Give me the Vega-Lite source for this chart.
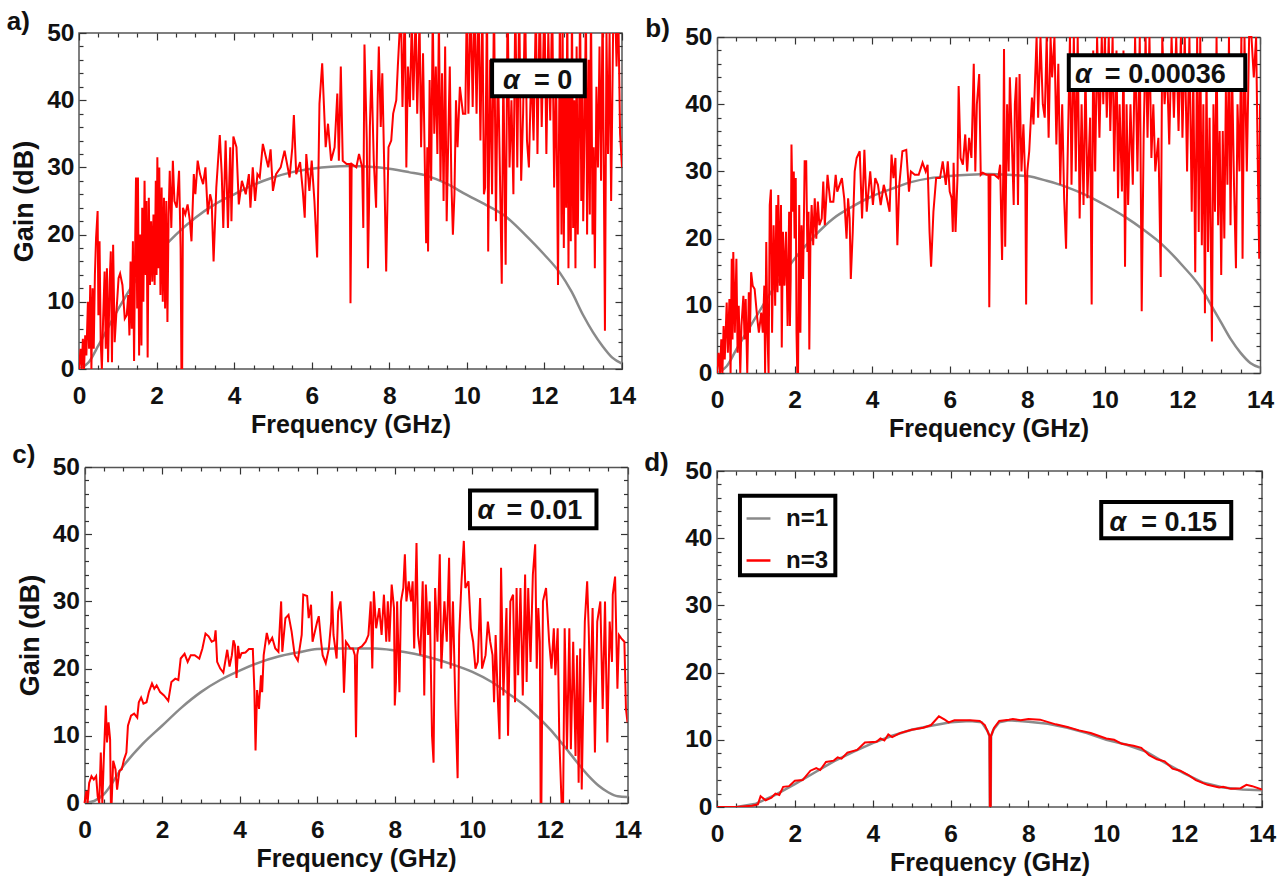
{"$schema":"https://vega.github.io/schema/vega-lite/v6.json","background":"white","padding":{"left":6,"top":8,"right":0,"bottom":0},
"config":{"view":{"stroke":"#555","strokeWidth":1.5},"axis":{"grid":false,"domain":false,"domainColor":"#555","domainWidth":1.5,"tickColor":"#333","tickWidth":1.2,"labelFlush":false,"labelOverlap":false,"labelFont":"Liberation Sans","labelFontWeight":"bold","labelFontSize":24.5,"labelColor":"#111","titleFont":"Liberation Sans","titleFontWeight":"bold","titleColor":"#111"},"axisX":{"titleFontSize":25},"axisY":{"titleFontSize":27},"axisTop":{"labels":false},"axisRight":{"labels":false}},
"datasets":{
"g1":[{"f":0,"g":0},{"f":0.25,"g":1},{"f":0.5,"g":3.5},{"f":1,"g":8.8},{"f":1.5,"g":13.5},{"f":2,"g":17},{"f":2.5,"g":20},{"f":3,"g":22.5},{"f":3.5,"g":24.5},{"f":4,"g":26},{"f":4.5,"g":27.4},{"f":5,"g":28.5},{"f":5.5,"g":29.3},{"f":6,"g":29.8},{"f":6.5,"g":30.1},{"f":7,"g":30.2},{"f":7.5,"g":30.1},{"f":8,"g":29.8},{"f":8.5,"g":29.3},{"f":9,"g":28.7},{"f":9.5,"g":27.5},{"f":10,"g":25.9},{"f":10.5,"g":24.4},{"f":11,"g":22.7},{"f":11.5,"g":20},{"f":12,"g":17},{"f":12.4,"g":14.3},{"f":12.7,"g":11.5},{"f":13,"g":8},{"f":13.25,"g":5.5},{"f":13.5,"g":3.4},{"f":13.75,"g":1.7},{"f":14,"g":0.8}],
"g2":[{"f":0,"g":0},{"f":0.25,"g":1},{"f":0.5,"g":3.5},{"f":1,"g":8.3},{"f":1.5,"g":13},{"f":2,"g":17},{"f":2.5,"g":20.3},{"f":3,"g":23},{"f":3.5,"g":24.8},{"f":4,"g":26.3},{"f":4.5,"g":27.4},{"f":5,"g":28.4},{"f":5.5,"g":29},{"f":6,"g":29.3},{"f":6.5,"g":29.5},{"f":7,"g":29.6},{"f":7.5,"g":29.5},{"f":8,"g":29.3},{"f":8.5,"g":28.6},{"f":9,"g":27.7},{"f":9.5,"g":26.5},{"f":10,"g":25},{"f":10.5,"g":23.3},{"f":11,"g":21.3},{"f":11.5,"g":19},{"f":12,"g":16},{"f":12.5,"g":12.5},{"f":12.75,"g":10},{"f":13,"g":7.5},{"f":13.25,"g":5},{"f":13.5,"g":3},{"f":13.75,"g":1.5},{"f":14,"g":0.8}],
"g3":[{"f":0,"g":0},{"f":0.25,"g":0.3},{"f":0.5,"g":1.3},{"f":1,"g":5.5},{"f":1.5,"g":8.8},{"f":2,"g":11.5},{"f":2.5,"g":14.2},{"f":3,"g":16.5},{"f":3.5,"g":18.3},{"f":4,"g":19.7},{"f":4.5,"g":20.9},{"f":5,"g":21.8},{"f":5.5,"g":22.4},{"f":6,"g":22.9},{"f":6.5,"g":23},{"f":7,"g":23},{"f":7.5,"g":23},{"f":8,"g":22.7},{"f":8.5,"g":22.2},{"f":9,"g":21.5},{"f":9.5,"g":20.6},{"f":10,"g":19.5},{"f":10.5,"g":18},{"f":11,"g":16},{"f":11.5,"g":13.8},{"f":12,"g":11},{"f":12.5,"g":7.5},{"f":13,"g":4},{"f":13.25,"g":2.6},{"f":13.5,"g":1.6},{"f":13.75,"g":1},{"f":14,"g":0.9}],
"g4":[{"f":0.5,"g":0},{"f":1,"g":0.5},{"f":1.5,"g":1.8},{"f":2,"g":3.4},{"f":2.5,"g":5.1},{"f":3,"g":6.8},{"f":3.5,"g":8.2},{"f":4,"g":9.5},{"f":4.5,"g":10.6},{"f":5,"g":11.5},{"f":5.5,"g":12.1},{"f":6,"g":12.6},{"f":6.5,"g":12.8},{"f":6.8,"g":12.6},{"f":6.95,"g":11.3},{"f":7,"g":10.5},{"f":7.01,"g":0},{"f":7.03,"g":0},{"f":7.04,"g":10.5},{"f":7.1,"g":11.5},{"f":7.25,"g":12.6},{"f":7.5,"g":12.9},{"f":8,"g":12.7},{"f":8.5,"g":12.4},{"f":9,"g":11.8},{"f":9.5,"g":11},{"f":10,"g":10},{"f":10.5,"g":9.3},{"f":11,"g":8.3},{"f":11.5,"g":6.6},{"f":12,"g":5},{"f":12.5,"g":3.6},{"f":13,"g":2.9},{"f":13.5,"g":2.6},{"f":14,"g":2.5}],
"a3":[{"f":0,"g":0},{"f":0.04,"g":3},{"f":0.07,"g":0},{"f":0.1,"g":4.5},{"f":0.13,"g":0},{"f":0.16,"g":5},{"f":0.19,"g":2},{"f":0.23,"g":10},{"f":0.26,"g":3},{"f":0.29,"g":12.5},{"f":0.32,"g":0},{"f":0.35,"g":12},{"f":0.38,"g":3},{"f":0.41,"g":14},{"f":0.44,"g":19.5},{"f":0.48,"g":23.5},{"f":0.5,"g":8},{"f":0.53,"g":19},{"f":0.56,"g":4},{"f":0.59,"g":0},{"f":0.62,"g":7},{"f":0.66,"g":14.5},{"f":0.69,"g":3},{"f":0.72,"g":15},{"f":0.75,"g":1},{"f":0.79,"g":13},{"f":0.82,"g":17.5},{"f":0.85,"g":1},{"f":0.88,"g":18.5},{"f":0.92,"g":4},{"f":0.96,"g":8},{"f":1.02,"g":13.5},{"f":1.06,"g":14.2},{"f":1.12,"g":12.5},{"f":1.18,"g":7.5},{"f":1.23,"g":8},{"f":1.27,"g":11},{"f":1.3,"g":5},{"f":1.33,"g":16},{"f":1.36,"g":6},{"f":1.39,"g":19},{"f":1.42,"g":1.2},{"f":1.45,"g":19.5},{"f":1.47,"g":28.5},{"f":1.5,"g":9},{"f":1.52,"g":28.5},{"f":1.55,"g":2},{"f":1.58,"g":20},{"f":1.61,"g":3.5},{"f":1.63,"g":24},{"f":1.66,"g":10},{"f":1.69,"g":28},{"f":1.72,"g":14},{"f":1.74,"g":25},{"f":1.77,"g":1.7},{"f":1.8,"g":25.5},{"f":1.83,"g":12.5},{"f":1.86,"g":22},{"f":1.89,"g":13},{"f":1.92,"g":23},{"f":1.95,"g":12.5},{"f":1.98,"g":28},{"f":2,"g":14},{"f":2.02,"g":31.5},{"f":2.05,"g":15},{"f":2.07,"g":30},{"f":2.1,"g":11},{"f":2.13,"g":27},{"f":2.16,"g":10},{"f":2.19,"g":25.5},{"f":2.22,"g":9},{"f":2.25,"g":25},{"f":2.28,"g":7},{"f":2.31,"g":23},{"f":2.34,"g":29.5},{"f":2.38,"g":21},{"f":2.42,"g":31},{"f":2.46,"g":25},{"f":2.52,"g":24},{"f":2.58,"g":29.5},{"f":2.62,"g":18},{"f":2.64,"g":0},{"f":2.66,"g":0},{"f":2.68,"g":24},{"f":2.74,"g":23},{"f":2.8,"g":24.5},{"f":2.86,"g":22},{"f":2.9,"g":19},{"f":2.96,"g":29},{"f":3,"g":26},{"f":3.06,"g":31},{"f":3.12,"g":29},{"f":3.2,"g":27.5},{"f":3.26,"g":30},{"f":3.32,"g":23},{"f":3.38,"g":26},{"f":3.42,"g":25},{"f":3.47,"g":16},{"f":3.54,"g":27},{"f":3.58,"g":30.5},{"f":3.63,"g":34.8},{"f":3.68,"g":29},{"f":3.72,"g":21},{"f":3.78,"g":34},{"f":3.84,"g":21},{"f":3.9,"g":33},{"f":3.93,"g":22},{"f":3.98,"g":34.6},{"f":4.06,"g":33},{"f":4.12,"g":24.5},{"f":4.2,"g":28},{"f":4.3,"g":26},{"f":4.38,"g":29},{"f":4.42,"g":24},{"f":4.48,"g":30},{"f":4.54,"g":25},{"f":4.6,"g":29},{"f":4.66,"g":28.5},{"f":4.74,"g":33.5},{"f":4.84,"g":31},{"f":4.88,"g":30},{"f":4.94,"g":32.7},{"f":5,"g":26.5},{"f":5.08,"g":29},{"f":5.2,"g":30},{"f":5.3,"g":32.5},{"f":5.43,"g":28.5},{"f":5.5,"g":33},{"f":5.54,"g":37.8},{"f":5.6,"g":29},{"f":5.7,"g":30.8},{"f":5.77,"g":26.5},{"f":5.82,"g":22.5},{"f":5.86,"g":32},{"f":5.94,"g":26.5},{"f":6,"g":31},{"f":6.07,"g":25},{"f":6.14,"g":16.6},{"f":6.2,"g":39.5},{"f":6.27,"g":45.5},{"f":6.36,"g":33},{"f":6.42,"g":36.5},{"f":6.5,"g":31},{"f":6.59,"g":33},{"f":6.66,"g":41},{"f":6.7,"g":31},{"f":6.75,"g":45},{"f":6.8,"g":31},{"f":6.9,"g":30.5},{"f":6.98,"g":30.5},{"f":7,"g":9.8},{"f":7.03,"g":30.5},{"f":7.15,"g":30},{"f":7.22,"g":32},{"f":7.3,"g":30},{"f":7.33,"g":21},{"f":7.36,"g":48.3},{"f":7.42,"g":34},{"f":7.45,"g":15},{"f":7.48,"g":25},{"f":7.5,"g":36},{"f":7.54,"g":44.5},{"f":7.6,"g":31},{"f":7.66,"g":24},{"f":7.7,"g":40},{"f":7.73,"g":48},{"f":7.78,"g":36},{"f":7.82,"g":44},{"f":7.87,"g":30},{"f":7.92,"g":14.5},{"f":7.95,"g":24},{"f":7.98,"g":33},{"f":8.05,"g":34},{"f":8.1,"g":38},{"f":8.18,"g":40},{"f":8.22,"g":45},{"f":8.3,"g":54},{"f":8.34,"g":39},{"f":8.4,"g":54},{"f":8.44,"g":30},{"f":8.48,"g":45},{"f":8.53,"g":39},{"f":8.58,"g":52},{"f":8.62,"g":40},{"f":8.68,"g":53},{"f":8.72,"g":38},{"f":8.78,"g":52},{"f":8.82,"g":33},{"f":8.87,"g":47},{"f":8.92,"g":29},{"f":8.95,"g":18.7},{"f":8.98,"g":33},{"f":9,"g":17.5},{"f":9.04,"g":43},{"f":9.08,"g":28},{"f":9.12,"g":53},{"f":9.16,"g":35},{"f":9.2,"g":45},{"f":9.24,"g":32},{"f":9.28,"g":52},{"f":9.32,"g":28},{"f":9.36,"g":44},{"f":9.4,"g":25},{"f":9.44,"g":48},{"f":9.48,"g":22},{"f":9.52,"g":34},{"f":9.56,"g":45},{"f":9.6,"g":28},{"f":9.64,"g":20},{"f":9.68,"g":26},{"f":9.72,"g":40},{"f":9.76,"g":33},{"f":9.82,"g":42},{"f":9.9,"g":38},{"f":9.96,"g":38},{"f":10,"g":55},{"f":10.04,"g":38},{"f":10.1,"g":55},{"f":10.15,"g":39},{"f":10.2,"g":55},{"f":10.25,"g":38},{"f":10.3,"g":55},{"f":10.35,"g":34},{"f":10.4,"g":55},{"f":10.44,"g":26},{"f":10.47,"g":27},{"f":10.52,"g":55},{"f":10.55,"g":17.5},{"f":10.6,"g":46},{"f":10.65,"g":26},{"f":10.7,"g":55},{"f":10.75,"g":22},{"f":10.8,"g":46},{"f":10.85,"g":30},{"f":10.9,"g":12.7},{"f":10.94,"g":45},{"f":11,"g":15.5},{"f":11.05,"g":55},{"f":11.1,"g":30},{"f":11.15,"g":40},{"f":11.2,"g":26},{"f":11.25,"g":55},{"f":11.3,"g":30},{"f":11.35,"g":55},{"f":11.4,"g":28},{"f":11.45,"g":38},{"f":11.5,"g":55},{"f":11.55,"g":34},{"f":11.6,"g":30},{"f":11.66,"g":45},{"f":11.72,"g":34},{"f":11.78,"g":54},{"f":11.82,"g":32},{"f":11.88,"g":55},{"f":11.93,"g":36},{"f":12,"g":55},{"f":12.05,"g":32},{"f":12.1,"g":50},{"f":12.15,"g":37},{"f":12.2,"g":55},{"f":12.25,"g":27},{"f":12.3,"g":45},{"f":12.35,"g":12.5},{"f":12.4,"g":55},{"f":12.44,"g":20},{"f":12.47,"g":50},{"f":12.5,"g":18},{"f":12.53,"g":45},{"f":12.56,"g":24},{"f":12.59,"g":55},{"f":12.62,"g":15},{"f":12.65,"g":45},{"f":12.68,"g":19},{"f":12.71,"g":55},{"f":12.74,"g":21},{"f":12.77,"g":40},{"f":12.8,"g":15},{"f":12.83,"g":48},{"f":12.86,"g":20},{"f":12.89,"g":35},{"f":12.92,"g":55},{"f":12.95,"g":25},{"f":12.98,"g":44},{"f":13,"g":22},{"f":13.04,"g":38},{"f":13.07,"g":55},{"f":13.1,"g":20},{"f":13.14,"g":46},{"f":13.17,"g":23},{"f":13.2,"g":55},{"f":13.24,"g":20},{"f":13.27,"g":33},{"f":13.3,"g":15},{"f":13.34,"g":42},{"f":13.38,"g":30},{"f":13.42,"g":48},{"f":13.46,"g":28},{"f":13.5,"g":55},{"f":13.56,"g":5.7},{"f":13.6,"g":50},{"f":13.64,"g":32},{"f":13.68,"g":50},{"f":13.72,"g":25},{"f":13.78,"g":55},{"f":13.82,"g":55},{"f":13.86,"g":45},{"f":13.9,"g":55},{"f":13.95,"g":35},{"f":14,"g":30}],
"b3":[{"f":0,"g":0},{"f":0.04,"g":3},{"f":0.08,"g":0},{"f":0.11,"g":5},{"f":0.14,"g":0},{"f":0.17,"g":7},{"f":0.2,"g":2},{"f":0.25,"g":10.5},{"f":0.28,"g":3},{"f":0.32,"g":11},{"f":0.35,"g":0},{"f":0.38,"g":17},{"f":0.4,"g":5},{"f":0.42,"g":18},{"f":0.46,"g":6},{"f":0.5,"g":17},{"f":0.53,"g":3},{"f":0.56,"g":10},{"f":0.6,"g":0},{"f":0.63,"g":7},{"f":0.68,"g":11.5},{"f":0.71,"g":5},{"f":0.74,"g":11},{"f":0.78,"g":0},{"f":0.82,"g":12},{"f":0.85,"g":6},{"f":0.88,"g":15},{"f":0.92,"g":13},{"f":0.97,"g":12.5},{"f":1.04,"g":8},{"f":1.08,"g":6},{"f":1.14,"g":9},{"f":1.18,"g":6},{"f":1.22,"g":13},{"f":1.24,"g":0},{"f":1.27,"g":19.5},{"f":1.3,"g":6},{"f":1.33,"g":0},{"f":1.36,"g":25},{"f":1.39,"g":27.3},{"f":1.42,"g":6},{"f":1.46,"g":22},{"f":1.5,"g":10},{"f":1.53,"g":25},{"f":1.56,"g":12},{"f":1.58,"g":26.5},{"f":1.62,"g":13},{"f":1.65,"g":25},{"f":1.67,"g":3.8},{"f":1.7,"g":21},{"f":1.74,"g":13},{"f":1.78,"g":21},{"f":1.82,"g":7},{"f":1.86,"g":24},{"f":1.88,"g":7},{"f":1.9,"g":14},{"f":1.92,"g":34},{"f":1.95,"g":24},{"f":1.98,"g":30},{"f":2,"g":20},{"f":2.03,"g":29},{"f":2.05,"g":6},{"f":2.07,"g":0},{"f":2.09,"g":0},{"f":2.12,"g":25},{"f":2.15,"g":6},{"f":2.18,"g":22},{"f":2.22,"g":14},{"f":2.26,"g":31.5},{"f":2.3,"g":31.5},{"f":2.33,"g":18},{"f":2.36,"g":24},{"f":2.38,"g":3.5},{"f":2.41,"g":20},{"f":2.44,"g":25},{"f":2.48,"g":19},{"f":2.52,"g":26},{"f":2.56,"g":20},{"f":2.6,"g":25.5},{"f":2.64,"g":22},{"f":2.7,"g":23},{"f":2.74,"g":28.5},{"f":2.78,"g":22},{"f":2.85,"g":29.5},{"f":2.92,"g":25.5},{"f":3,"g":25.5},{"f":3.06,"g":29.5},{"f":3.1,"g":27},{"f":3.16,"g":28},{"f":3.22,"g":29},{"f":3.28,"g":26},{"f":3.34,"g":20},{"f":3.38,"g":26},{"f":3.42,"g":23},{"f":3.45,"g":14},{"f":3.5,"g":21},{"f":3.55,"g":30},{"f":3.6,"g":32},{"f":3.68,"g":33},{"f":3.74,"g":23},{"f":3.8,"g":33.2},{"f":3.86,"g":24},{"f":3.95,"g":30},{"f":4.02,"g":25},{"f":4.08,"g":29},{"f":4.15,"g":28},{"f":4.22,"g":25},{"f":4.3,"g":28},{"f":4.38,"g":26},{"f":4.45,"g":24},{"f":4.5,"g":32.5},{"f":4.55,"g":29},{"f":4.6,"g":32},{"f":4.65,"g":19},{"f":4.7,"g":28},{"f":4.78,"g":33},{"f":4.88,"g":33.2},{"f":4.95,"g":27},{"f":5,"g":30},{"f":5.1,"g":29.5},{"f":5.2,"g":29.5},{"f":5.3,"g":31.3},{"f":5.38,"g":30},{"f":5.43,"g":31},{"f":5.48,"g":21},{"f":5.52,"g":15.8},{"f":5.58,"g":24},{"f":5.65,"g":29},{"f":5.75,"g":29},{"f":5.82,"g":31.5},{"f":5.9,"g":28},{"f":5.95,"g":31.5},{"f":6,"g":27},{"f":6.05,"g":26},{"f":6.08,"g":21},{"f":6.1,"g":31.3},{"f":6.15,"g":21},{"f":6.2,"g":29},{"f":6.23,"g":42.7},{"f":6.28,"g":32},{"f":6.34,"g":31},{"f":6.4,"g":35.5},{"f":6.45,"g":30},{"f":6.5,"g":35},{"f":6.56,"g":32},{"f":6.62,"g":46},{"f":6.66,"g":30},{"f":6.7,"g":40},{"f":6.76,"g":44.5},{"f":6.8,"g":29.5},{"f":6.85,"g":29.8},{"f":6.95,"g":29.5},{"f":7,"g":29.5},{"f":7.02,"g":9.8},{"f":7.05,"g":29.5},{"f":7.15,"g":29.5},{"f":7.25,"g":29},{"f":7.3,"g":31},{"f":7.35,"g":16.8},{"f":7.38,"g":30},{"f":7.4,"g":48.2},{"f":7.43,"g":18.8},{"f":7.48,"g":40},{"f":7.52,"g":30},{"f":7.55,"g":44},{"f":7.6,"g":35},{"f":7.65,"g":25},{"f":7.68,"g":40},{"f":7.72,"g":44},{"f":7.76,"g":25},{"f":7.8,"g":44.5},{"f":7.85,"g":30},{"f":7.9,"g":37},{"f":7.95,"g":28},{"f":7.97,"g":10.2},{"f":8,"g":30},{"f":8.05,"g":33},{"f":8.12,"g":41},{"f":8.16,"g":37},{"f":8.24,"g":55},{"f":8.28,"g":38},{"f":8.34,"g":52},{"f":8.4,"g":40},{"f":8.45,"g":38},{"f":8.5,"g":55},{"f":8.55,"g":35},{"f":8.6,"g":55},{"f":8.64,"g":44},{"f":8.7,"g":55},{"f":8.75,"g":34},{"f":8.8,"g":46},{"f":8.85,"g":28},{"f":8.9,"g":40},{"f":8.95,"g":26},{"f":9,"g":18.5},{"f":9.04,"g":32},{"f":9.1,"g":52},{"f":9.14,"g":28},{"f":9.2,"g":55},{"f":9.25,"g":30},{"f":9.3,"g":50},{"f":9.35,"g":23},{"f":9.4,"g":40},{"f":9.45,"g":25},{"f":9.5,"g":45},{"f":9.55,"g":26},{"f":9.62,"g":38},{"f":9.66,"g":10.2},{"f":9.7,"g":48},{"f":9.75,"g":30},{"f":9.8,"g":55},{"f":9.86,"g":35},{"f":9.92,"g":55},{"f":9.96,"g":40},{"f":10,"g":55},{"f":10.05,"g":38},{"f":10.1,"g":55},{"f":10.14,"g":36},{"f":10.2,"g":55},{"f":10.24,"g":30},{"f":10.3,"g":48},{"f":10.34,"g":26},{"f":10.38,"g":40},{"f":10.44,"g":27},{"f":10.48,"g":48},{"f":10.52,"g":15.8},{"f":10.56,"g":40},{"f":10.6,"g":25},{"f":10.66,"g":40},{"f":10.72,"g":28},{"f":10.78,"g":55},{"f":10.84,"g":30},{"f":10.9,"g":50},{"f":10.95,"g":9.2},{"f":11,"g":35},{"f":11.05,"g":55},{"f":11.1,"g":35},{"f":11.15,"g":55},{"f":11.2,"g":32},{"f":11.25,"g":40},{"f":11.3,"g":30},{"f":11.38,"g":35},{"f":11.44,"g":14.3},{"f":11.48,"g":55},{"f":11.54,"g":40},{"f":11.6,"g":46},{"f":11.66,"g":34},{"f":11.72,"g":55},{"f":11.78,"g":38},{"f":11.84,"g":55},{"f":11.9,"g":36},{"f":11.96,"g":55},{"f":12,"g":35},{"f":12.06,"g":55},{"f":12.12,"g":30},{"f":12.18,"g":55},{"f":12.24,"g":24},{"f":12.28,"g":45},{"f":12.33,"g":15},{"f":12.38,"g":50},{"f":12.42,"g":21},{"f":12.46,"g":52},{"f":12.5,"g":19},{"f":12.54,"g":40},{"f":12.58,"g":8.9},{"f":12.62,"g":45},{"f":12.66,"g":18},{"f":12.7,"g":38},{"f":12.73,"g":20},{"f":12.76,"g":4.7},{"f":12.8,"g":40},{"f":12.84,"g":24},{"f":12.88,"g":55},{"f":12.92,"g":22},{"f":12.96,"g":36},{"f":13,"g":14.6},{"f":13.04,"g":36},{"f":13.08,"g":20},{"f":13.12,"g":42},{"f":13.16,"g":28},{"f":13.2,"g":50},{"f":13.24,"g":22},{"f":13.28,"g":45},{"f":13.33,"g":28},{"f":13.38,"g":15.6},{"f":13.42,"g":40},{"f":13.47,"g":30},{"f":13.52,"g":50},{"f":13.55,"g":17},{"f":13.6,"g":50},{"f":13.66,"g":30},{"f":13.72,"g":55},{"f":13.78,"g":55},{"f":13.84,"g":44},{"f":13.9,"g":55},{"f":13.95,"g":28},{"f":13.98,"g":17},{"f":14,"g":40}],
"c3":[{"f":0,"g":0},{"f":0.05,"g":1.8},{"f":0.08,"g":0},{"f":0.12,"g":3},{"f":0.18,"g":4},{"f":0.24,"g":3.5},{"f":0.3,"g":4},{"f":0.34,"g":1},{"f":0.38,"g":0},{"f":0.42,"g":7.5},{"f":0.46,"g":0},{"f":0.5,"g":7},{"f":0.55,"g":14.5},{"f":0.58,"g":9},{"f":0.62,"g":12},{"f":0.66,"g":9.5},{"f":0.68,"g":0},{"f":0.7,"g":0},{"f":0.74,"g":6.3},{"f":0.8,"g":5},{"f":0.84,"g":2},{"f":0.9,"g":4.8},{"f":0.96,"g":5},{"f":1.02,"g":6.5},{"f":1.08,"g":7.5},{"f":1.12,"g":11.5},{"f":1.2,"g":13},{"f":1.28,"g":13.3},{"f":1.36,"g":12.7},{"f":1.4,"g":15},{"f":1.46,"g":15.7},{"f":1.52,"g":14.8},{"f":1.6,"g":15},{"f":1.66,"g":16.5},{"f":1.74,"g":17.8},{"f":1.8,"g":17},{"f":1.86,"g":17.5},{"f":1.95,"g":16.5},{"f":2.05,"g":16},{"f":2.16,"g":15.2},{"f":2.24,"g":18},{"f":2.34,"g":18.5},{"f":2.42,"g":18.3},{"f":2.48,"g":21.5},{"f":2.58,"g":22.2},{"f":2.66,"g":21},{"f":2.74,"g":22},{"f":2.84,"g":22},{"f":2.96,"g":21.5},{"f":3.04,"g":23},{"f":3.12,"g":25.2},{"f":3.2,"g":24.8},{"f":3.28,"g":24},{"f":3.35,"g":24.2},{"f":3.38,"g":25.7},{"f":3.42,"g":21},{"f":3.5,"g":20},{"f":3.58,"g":19.4},{"f":3.68,"g":22.8},{"f":3.74,"g":20.3},{"f":3.8,"g":22},{"f":3.84,"g":24.2},{"f":3.88,"g":23.5},{"f":3.92,"g":18.6},{"f":3.96,"g":23.4},{"f":4,"g":21.5},{"f":4.05,"g":22.3},{"f":4.15,"g":22.4},{"f":4.24,"g":22.9},{"f":4.34,"g":22.9},{"f":4.38,"g":16.8},{"f":4.41,"g":7.8},{"f":4.45,"g":16.8},{"f":4.5,"g":14},{"f":4.55,"g":19},{"f":4.58,"g":16.5},{"f":4.62,"g":22},{"f":4.7,"g":25.3},{"f":4.76,"g":23.8},{"f":4.84,"g":24.6},{"f":4.92,"g":23},{"f":5,"g":22.5},{"f":5.07,"g":30},{"f":5.1,"g":22.5},{"f":5.18,"g":27.5},{"f":5.26,"g":28},{"f":5.34,"g":25.5},{"f":5.42,"g":22},{"f":5.5,"g":21.2},{"f":5.6,"g":25},{"f":5.64,"g":31},{"f":5.74,"g":30.8},{"f":5.78,"g":27.5},{"f":5.84,"g":29.5},{"f":5.88,"g":24},{"f":5.94,"g":25.5},{"f":6,"g":27},{"f":6.04,"g":27.8},{"f":6.1,"g":24},{"f":6.14,"g":22},{"f":6.22,"g":20.8},{"f":6.3,"g":23},{"f":6.36,"g":27},{"f":6.38,"g":31.5},{"f":6.42,"g":25},{"f":6.5,"g":21.5},{"f":6.54,"g":28.5},{"f":6.6,"g":30},{"f":6.65,"g":25},{"f":6.69,"g":16.4},{"f":6.74,"g":24},{"f":6.8,"g":23.5},{"f":6.85,"g":23},{"f":6.92,"g":23},{"f":6.97,"g":22},{"f":7,"g":9.8},{"f":7.03,"g":22},{"f":7.06,"g":23},{"f":7.15,"g":23.3},{"f":7.25,"g":24},{"f":7.32,"g":25},{"f":7.38,"g":30},{"f":7.42,"g":20},{"f":7.46,"g":31.5},{"f":7.52,"g":26},{"f":7.6,"g":29},{"f":7.66,"g":25},{"f":7.72,"g":31},{"f":7.78,"g":24},{"f":7.82,"g":30},{"f":7.86,"g":24},{"f":7.92,"g":32.5},{"f":7.98,"g":29},{"f":8,"g":14.5},{"f":8.03,"g":18},{"f":8.06,"g":30},{"f":8.12,"g":16.5},{"f":8.16,"g":30},{"f":8.22,"g":32},{"f":8.26,"g":37},{"f":8.3,"g":30},{"f":8.36,"g":33},{"f":8.42,"g":30},{"f":8.46,"g":33},{"f":8.5,"g":23},{"f":8.56,"g":38.7},{"f":8.6,"g":25},{"f":8.66,"g":22},{"f":8.72,"g":33},{"f":8.76,"g":16},{"f":8.8,"g":32.5},{"f":8.86,"g":25},{"f":8.9,"g":30},{"f":8.96,"g":10},{"f":9,"g":6},{"f":9.04,"g":32},{"f":9.1,"g":24},{"f":9.16,"g":37},{"f":9.2,"g":20},{"f":9.28,"g":30},{"f":9.34,"g":24},{"f":9.4,"g":36.5},{"f":9.44,"g":20},{"f":9.5,"g":30},{"f":9.56,"g":15},{"f":9.62,"g":3.7},{"f":9.66,"g":25},{"f":9.72,"g":33},{"f":9.78,"g":39},{"f":9.82,"g":32},{"f":9.9,"g":33},{"f":9.96,"g":26},{"f":10.02,"g":24},{"f":10.08,"g":20},{"f":10.14,"g":21},{"f":10.2,"g":30.5},{"f":10.25,"g":20},{"f":10.34,"g":22},{"f":10.4,"g":27},{"f":10.46,"g":24},{"f":10.52,"g":22},{"f":10.56,"g":15},{"f":10.6,"g":25},{"f":10.66,"g":15},{"f":10.7,"g":9.5},{"f":10.74,"g":35},{"f":10.8,"g":16},{"f":10.88,"g":29},{"f":10.92,"g":10},{"f":10.98,"g":30},{"f":11.05,"g":31},{"f":11.1,"g":15},{"f":11.14,"g":32},{"f":11.18,"g":19},{"f":11.24,"g":32},{"f":11.3,"g":16},{"f":11.36,"g":34},{"f":11.4,"g":18},{"f":11.44,"g":32},{"f":11.5,"g":21},{"f":11.56,"g":34},{"f":11.62,"g":38.5},{"f":11.66,"g":20},{"f":11.7,"g":29},{"f":11.74,"g":24},{"f":11.76,"g":0},{"f":11.78,"g":0},{"f":11.82,"g":30},{"f":11.9,"g":32},{"f":11.98,"g":24},{"f":12.04,"g":20},{"f":12.1,"g":26},{"f":12.14,"g":19},{"f":12.2,"g":26},{"f":12.24,"g":10},{"f":12.3,"g":0},{"f":12.34,"g":0},{"f":12.38,"g":26},{"f":12.44,"g":8},{"f":12.5,"g":26},{"f":12.54,"g":8},{"f":12.6,"g":24},{"f":12.66,"g":7},{"f":12.7,"g":22},{"f":12.74,"g":3},{"f":12.78,"g":23},{"f":12.82,"g":2},{"f":12.86,"g":15},{"f":12.9,"g":27},{"f":12.96,"g":33},{"f":13,"g":26},{"f":13.04,"g":15},{"f":13.1,"g":29},{"f":13.16,"g":7.5},{"f":13.22,"g":27},{"f":13.3,"g":30},{"f":13.36,"g":14},{"f":13.42,"g":30},{"f":13.48,"g":9},{"f":13.54,"g":27},{"f":13.6,"g":21},{"f":13.62,"g":31},{"f":13.68,"g":33.7},{"f":13.74,"g":17},{"f":13.78,"g":25},{"f":13.84,"g":24.5},{"f":13.92,"g":24},{"f":13.96,"g":14},{"f":14,"g":12}],
"d3":[{"f":0,"g":0},{"f":0.5,"g":0},{"f":0.9,"g":0.2},{"f":1.05,"g":0.4},{"f":1.12,"g":1.6},{"f":1.25,"g":1},{"f":1.4,"g":1.4},{"f":1.5,"g":2},{"f":1.6,"g":1.8},{"f":1.7,"g":3},{"f":1.85,"g":3.1},{"f":2,"g":3.9},{"f":2.2,"g":4},{"f":2.4,"g":5.4},{"f":2.55,"g":5.8},{"f":2.65,"g":5.5},{"f":2.8,"g":6.7},{"f":3,"g":6.9},{"f":3.1,"g":7.4},{"f":3.2,"g":7.2},{"f":3.35,"g":8.1},{"f":3.6,"g":8.5},{"f":3.8,"g":9.6},{"f":4.1,"g":9.7},{"f":4.2,"g":10.2},{"f":4.3,"g":9.9},{"f":4.4,"g":10.8},{"f":4.5,"g":10.4},{"f":4.7,"g":11},{"f":5,"g":11.5},{"f":5.3,"g":11.8},{"f":5.5,"g":12.2},{"f":5.7,"g":13.5},{"f":5.85,"g":13},{"f":5.95,"g":12.6},{"f":6.1,"g":12.9},{"f":6.5,"g":12.9},{"f":6.75,"g":12.8},{"f":6.88,"g":12.2},{"f":6.97,"g":11},{"f":7,"g":10.6},{"f":7.01,"g":0},{"f":7.03,"g":0},{"f":7.04,"g":10.6},{"f":7.12,"g":11.8},{"f":7.25,"g":12.8},{"f":7.5,"g":13},{"f":7.6,"g":13.1},{"f":7.8,"g":12.9},{"f":8,"g":13.1},{"f":8.3,"g":13},{"f":8.7,"g":12.3},{"f":9,"g":11.9},{"f":9.3,"g":11.4},{"f":9.6,"g":11},{"f":10,"g":10.2},{"f":10.2,"g":10},{"f":10.4,"g":9.4},{"f":10.7,"g":9.1},{"f":10.9,"g":8.8},{"f":11.1,"g":7.7},{"f":11.3,"g":7.1},{"f":11.5,"g":6.8},{"f":11.7,"g":5.7},{"f":11.9,"g":5.4},{"f":12.1,"g":4.8},{"f":12.3,"g":4},{"f":12.6,"g":3.3},{"f":12.9,"g":2.9},{"f":13,"g":3},{"f":13.2,"g":2.7},{"f":13.45,"g":2.8},{"f":13.6,"g":3.3},{"f":13.75,"g":3.1},{"f":14,"g":2.6}]
},
"align":"none","spacing":1,
"hconcat":[
{"spacing":2,"align":"none","vconcat":[
{"width":543,"height":336,"resolve":{"axis":{"x":"independent","y":"independent"}},"layer":[
{"data":{"name":"g1"},"mark":{"type":"line","stroke":"#8a8a8a","strokeWidth":2.5,"clip":true,"interpolate":"monotone"},"encoding":{"x":{"field":"f","type":"quantitative","scale":{"domain":[0,14],"nice":false},"title":"Frequency (GHz)","axis":{"orient":"bottom","values":[0,2,4,6,8,10,12,14],"tickSize":-7,"labelPadding":22,"titlePadding":5}},"y":{"field":"g","type":"quantitative","scale":{"domain":[0,50],"nice":false},"title":"Gain (dB)","axis":{"orient":"left","values":[0,10,20,30,40,50],"tickSize":-7,"labelPadding":12,"titlePadding":8}}}},
{"data":{"name":"a3"},"mark":{"type":"line","stroke":"#ff0000","strokeWidth":2,"clip":true},"encoding":{"x":{"field":"f","type":"quantitative","title":null,"axis":{"orient":"bottom","values":[0.5,1,1.5,2.5,3,3.5,4.5,5,5.5,6.5,7,7.5,8.5,9,9.5,10.5,11,11.5,12.5,13,13.5],"tickSize":-4,"labels":false}},"y":{"field":"g","type":"quantitative","title":null,"axis":{"orient":"left","values":[2,4,6,8,12,14,16,18,22,24,26,28,32,34,36,38,42,44,46,48],"tickSize":-4,"labels":false}}}},
{"data":{"values":[{"x1":10.65,"x2":13.04,"y1":40.6,"y2":45.9}]},"mark":{"type":"rect","fill":"white","stroke":"black","strokeWidth":4},"encoding":{"x":{"field":"x1","type":"quantitative","title":null,"axis":{"orient":"top","values":[0,2,4,6,8,10,12,14],"tickSize":-7}},"x2":{"field":"x2"},"y":{"field":"y1","type":"quantitative","title":null,"axis":{"orient":"right","values":[0,10,20,30,40,50],"tickSize":-7}},"y2":{"field":"y2"}}},
{"data":{"values":[{"x":10.93,"y":41.7,"t":"α"}]},"mark":{"type":"text","align":"left","baseline":"alphabetic","font":"Liberation Sans","fontWeight":"bold","fontStyle":"italic","fontSize":27,"color":"#111"},"encoding":{"x":{"field":"x","type":"quantitative","title":null,"axis":{"orient":"top","values":[0.5,1,1.5,2.5,3,3.5,4.5,5,5.5,6.5,7,7.5,8.5,9,9.5,10.5,11,11.5,12.5,13,13.5],"tickSize":-4}},"y":{"field":"y","type":"quantitative","title":null,"axis":{"orient":"right","values":[2,4,6,8,12,14,16,18,22,24,26,28,32,34,36,38,42,44,46,48],"tickSize":-4}},"text":{"field":"t"}}},
{"data":{"values":[{"x":11.73,"y":41.7,"t":"= 0"}]},"mark":{"type":"text","align":"left","baseline":"alphabetic","font":"Liberation Sans","fontWeight":"bold","fontSize":27,"color":"#111"},"encoding":{"x":{"field":"x","type":"quantitative","axis":null},"y":{"field":"y","type":"quantitative","axis":null},"text":{"field":"t"}}},
{"data":{"values":[{"x":-1.86,"y":50.4,"t":"a)"}]},"mark":{"type":"text","align":"left","baseline":"alphabetic","font":"Liberation Sans","fontWeight":"bold","fontSize":26,"color":"#111"},"encoding":{"x":{"field":"x","type":"quantitative","axis":null},"y":{"field":"y","type":"quantitative","axis":null},"text":{"field":"t"}}}
]},
{"width":548.5,"height":336,"view":{"stroke":null},"resolve":{"axis":{"x":"independent","y":"independent"}},"layer":[
{"data":{"name":"g3"},"mark":{"type":"line","stroke":"#8a8a8a","strokeWidth":2.5,"clip":true,"interpolate":"monotone"},"encoding":{"x":{"field":"f","type":"quantitative","scale":{"domain":[0,14],"nice":false,"range":[5.5,548.5]},"title":"Frequency (GHz)","axis":{"orient":"bottom","domain":true,"values":[0,2,4,6,8,10,12,14],"tickSize":-7,"labelPadding":22,"titlePadding":5}},"y":{"field":"g","type":"quantitative","scale":{"domain":[0,50],"nice":false},"title":"Gain (dB)","axis":{"orient":"left","domain":true,"offset":-5.5,"values":[0,10,20,30,40,50],"tickSize":-7,"labelPadding":12,"titlePadding":8}}}},
{"data":{"name":"c3"},"mark":{"type":"line","stroke":"#ff0000","strokeWidth":2,"clip":true},"encoding":{"x":{"field":"f","type":"quantitative","title":null,"axis":{"orient":"bottom","values":[0.5,1,1.5,2.5,3,3.5,4.5,5,5.5,6.5,7,7.5,8.5,9,9.5,10.5,11,11.5,12.5,13,13.5],"tickSize":-4,"labels":false}},"y":{"field":"g","type":"quantitative","title":null,"axis":{"orient":"left","offset":-5.5,"values":[2,4,6,8,12,14,16,18,22,24,26,28,32,34,36,38,42,44,46,48],"tickSize":-4,"labels":false}}}},
{"data":{"values":[{"x1":9.94,"x2":13.2,"y1":40.9,"y2":46.5}]},"mark":{"type":"rect","fill":"white","stroke":"black","strokeWidth":4},"encoding":{"x":{"field":"x1","type":"quantitative","title":null,"axis":{"orient":"top","domain":true,"values":[0,2,4,6,8,10,12,14],"tickSize":-7}},"x2":{"field":"x2"},"y":{"field":"y1","type":"quantitative","title":null,"axis":{"orient":"right","domain":true,"values":[0,10,20,30,40,50],"tickSize":-7}},"y2":{"field":"y2"}}},
{"data":{"values":[{"x":10.13,"y":42.3,"t":"α"}]},"mark":{"type":"text","align":"left","baseline":"alphabetic","font":"Liberation Sans","fontWeight":"bold","fontStyle":"italic","fontSize":27,"color":"#111"},"encoding":{"x":{"field":"x","type":"quantitative","title":null,"axis":{"orient":"top","values":[0.5,1,1.5,2.5,3,3.5,4.5,5,5.5,6.5,7,7.5,8.5,9,9.5,10.5,11,11.5,12.5,13,13.5],"tickSize":-4}},"y":{"field":"y","type":"quantitative","title":null,"axis":{"orient":"right","values":[2,4,6,8,12,14,16,18,22,24,26,28,32,34,36,38,42,44,46,48],"tickSize":-4}},"text":{"field":"t"}}},
{"data":{"values":[{"x":10.88,"y":42.3,"t":"= 0.01"}]},"mark":{"type":"text","align":"left","baseline":"alphabetic","font":"Liberation Sans","fontWeight":"bold","fontSize":27,"color":"#111"},"encoding":{"x":{"field":"x","type":"quantitative","axis":null},"y":{"field":"y","type":"quantitative","axis":null},"text":{"field":"t"}}},
{"data":{"values":[{"x":-1.86,"y":50.6,"t":"c)"}]},"mark":{"type":"text","align":"left","baseline":"alphabetic","font":"Liberation Sans","fontWeight":"bold","fontSize":26,"color":"#111"},"encoding":{"x":{"field":"x","type":"quantitative","axis":null},"y":{"field":"y","type":"quantitative","axis":null},"text":{"field":"t"}}}
]}
]},
{"spacing":7,"vconcat":[
{"width":543,"height":340,"view":{"stroke":null},"resolve":{"axis":{"x":"independent","y":"independent"}},"layer":[
{"data":{"name":"g2"},"mark":{"type":"line","stroke":"#8a8a8a","strokeWidth":2.5,"clip":true,"interpolate":"monotone"},"encoding":{"x":{"field":"f","type":"quantitative","scale":{"domain":[0,14],"nice":false},"title":"Frequency (GHz)","axis":{"orient":"bottom","domain":true,"values":[0,2,4,6,8,10,12,14],"tickSize":-7,"labelPadding":22,"titlePadding":5}},"y":{"field":"g","type":"quantitative","scale":{"domain":[0,50],"nice":false,"clamp":true,"range":[340,4]},"axis":{"orient":"left","domain":true,"values":[0,10,20,30,40,50],"tickSize":-7,"labelPadding":12},"title":null}}},
{"data":{"name":"b3"},"mark":{"type":"line","stroke":"#ff0000","strokeWidth":2,"clip":true},"encoding":{"x":{"field":"f","type":"quantitative","title":null,"axis":{"orient":"bottom","values":[0.5,1,1.5,2.5,3,3.5,4.5,5,5.5,6.5,7,7.5,8.5,9,9.5,10.5,11,11.5,12.5,13,13.5],"tickSize":-4,"labels":false}},"y":{"field":"g","type":"quantitative","title":null,"axis":{"orient":"left","values":[2,4,6,8,12,14,16,18,22,24,26,28,32,34,36,38,42,44,46,48],"tickSize":-4,"labels":false}}}},
{"data":{"values":[{"x1":9.07,"x2":13.62,"y1":42.1,"y2":47.3}]},"mark":{"type":"rect","fill":"white","stroke":"black","strokeWidth":4},"encoding":{"x":{"field":"x1","type":"quantitative","title":null,"axis":{"orient":"top","domain":true,"offset":-4,"values":[0,2,4,6,8,10,12,14],"tickSize":-7}},"x2":{"field":"x2"},"y":{"field":"y1","type":"quantitative","title":null,"axis":{"orient":"right","domain":true,"values":[0,10,20,30,40,50],"tickSize":-7}},"y2":{"field":"y2"}}},
{"data":{"values":[{"x":9.23,"y":43.2,"t":"α"}]},"mark":{"type":"text","align":"left","baseline":"alphabetic","font":"Liberation Sans","fontWeight":"bold","fontStyle":"italic","fontSize":27,"color":"#111"},"encoding":{"x":{"field":"x","type":"quantitative","title":null,"axis":{"orient":"top","offset":-4,"values":[0.5,1,1.5,2.5,3,3.5,4.5,5,5.5,6.5,7,7.5,8.5,9,9.5,10.5,11,11.5,12.5,13,13.5],"tickSize":-4}},"y":{"field":"y","type":"quantitative","title":null,"axis":{"orient":"right","values":[2,4,6,8,12,14,16,18,22,24,26,28,32,34,36,38,42,44,46,48],"tickSize":-4}},"text":{"field":"t"}}},
{"data":{"values":[{"x":10,"y":43.2,"t":"= 0.00036"}]},"mark":{"type":"text","align":"left","baseline":"alphabetic","font":"Liberation Sans","fontWeight":"bold","fontSize":27,"color":"#111"},"encoding":{"x":{"field":"x","type":"quantitative","axis":null},"y":{"field":"y","type":"quantitative","axis":null},"text":{"field":"t"}}},
{"data":{"values":[{"x":-1.85,"y":50.5,"t":"b)"}]},"mark":{"type":"text","align":"left","baseline":"alphabetic","font":"Liberation Sans","fontWeight":"bold","fontSize":26,"color":"#111"},"encoding":{"x":{"field":"x","type":"quantitative","axis":null},"y":{"field":"y","type":"quantitative","axis":null},"text":{"field":"t"}}}
]},
{"width":545,"height":336,"resolve":{"axis":{"x":"independent","y":"independent"}},"layer":[
{"data":{"values":[{"x1":0.59,"x2":3.04,"y1":34.5,"y2":46.3}]},"mark":{"type":"rect","fill":"white","stroke":"black","strokeWidth":4},"encoding":{"x":{"field":"x1","type":"quantitative","scale":{"domain":[0,14],"nice":false},"title":null,"axis":{"orient":"top","values":[0,2,4,6,8,10,12,14],"tickSize":-7}},"x2":{"field":"x2"},"y":{"field":"y1","type":"quantitative","scale":{"domain":[0,50],"nice":false},"title":null,"axis":{"orient":"right","values":[0,10,20,30,40,50],"tickSize":-7}},"y2":{"field":"y2"}}},
{"data":{"name":"g4"},"mark":{"type":"line","strokeWidth":2.5,"clip":true},"encoding":{"color":{"datum":"n=1","type":"nominal","scale":{"domain":["n=1","n=3"],"range":["#8a8a8a","#ff0000"]},"legend":{"title":null,"orient":"none","legendX":666,"legendY":472,"symbolType":"stroke","symbolSize":570,"symbolStrokeWidth":2.5,"labelFont":"Liberation Sans","labelFontWeight":"bold","labelFontSize":24,"labelColor":"#111","rowPadding":16,"labelOffset":14,"padding":0}},"x":{"field":"f","type":"quantitative","title":"Frequency (GHz)","axis":{"orient":"bottom","values":[0,2,4,6,8,10,12,14],"tickSize":-7,"labelPadding":22,"titlePadding":5}},"y":{"field":"g","type":"quantitative","title":null,"axis":{"orient":"left","values":[0,10,20,30,40,50],"tickSize":-7,"labelPadding":12}}}},
{"data":{"name":"d3"},"mark":{"type":"line","strokeWidth":2,"clip":true},"encoding":{"color":{"datum":"n=3","type":"nominal"},"x":{"field":"f","type":"quantitative","title":null,"axis":{"orient":"bottom","values":[0.5,1,1.5,2.5,3,3.5,4.5,5,5.5,6.5,7,7.5,8.5,9,9.5,10.5,11,11.5,12.5,13,13.5],"tickSize":-4,"labels":false}},"y":{"field":"g","type":"quantitative","title":null,"axis":{"orient":"left","values":[2,4,6,8,12,14,16,18,22,24,26,28,32,34,36,38,42,44,46,48],"tickSize":-4,"labels":false}}}},
{"data":{"values":[{"x1":9.87,"x2":13.21,"y1":40,"y2":45.4}]},"mark":{"type":"rect","fill":"white","stroke":"black","strokeWidth":4},"encoding":{"x":{"field":"x1","type":"quantitative","title":null,"axis":{"orient":"top","values":[0.5,1,1.5,2.5,3,3.5,4.5,5,5.5,6.5,7,7.5,8.5,9,9.5,10.5,11,11.5,12.5,13,13.5],"tickSize":-4}},"x2":{"field":"x2"},"y":{"field":"y1","type":"quantitative","title":null,"axis":{"orient":"right","values":[2,4,6,8,12,14,16,18,22,24,26,28,32,34,36,38,42,44,46,48],"tickSize":-4}},"y2":{"field":"y2"}}},
{"data":{"values":[{"x":10.08,"y":41.1,"t":"α"}]},"mark":{"type":"text","align":"left","baseline":"alphabetic","font":"Liberation Sans","fontWeight":"bold","fontStyle":"italic","fontSize":27,"color":"#111"},"encoding":{"x":{"field":"x","type":"quantitative","axis":null},"y":{"field":"y","type":"quantitative","axis":null},"text":{"field":"t"}}},
{"data":{"values":[{"x":10.9,"y":41.1,"t":"= 0.15"}]},"mark":{"type":"text","align":"left","baseline":"alphabetic","font":"Liberation Sans","fontWeight":"bold","fontSize":27,"color":"#111"},"encoding":{"x":{"field":"x","type":"quantitative","axis":null},"y":{"field":"y","type":"quantitative","axis":null},"text":{"field":"t"}}},
{"data":{"values":[{"x":-1.87,"y":50,"t":"d)"}]},"mark":{"type":"text","align":"left","baseline":"alphabetic","font":"Liberation Sans","fontWeight":"bold","fontSize":26,"color":"#111"},"encoding":{"x":{"field":"x","type":"quantitative","axis":null},"y":{"field":"y","type":"quantitative","axis":null},"text":{"field":"t"}}}
]}
]}
]}
